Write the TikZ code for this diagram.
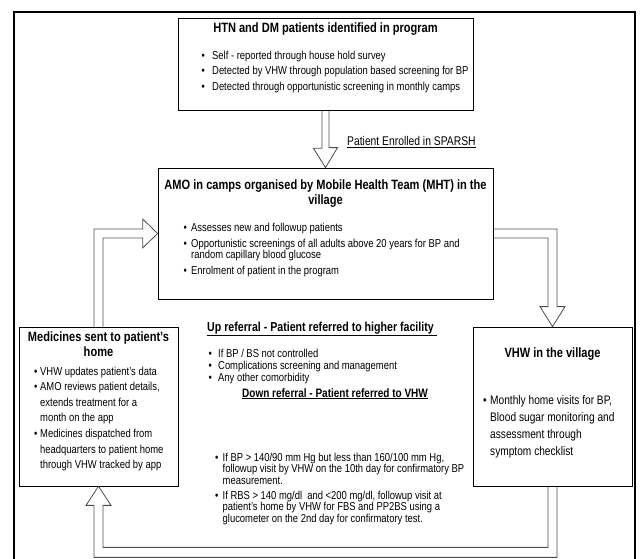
\documentclass[tikz,border=0pt]{standalone}
\usepackage{fontspec}
\setmainfont{Liberation Sans}[FakeStretch=0.82]
\usetikzlibrary{calc,positioning}

\newlength{\bulind}
\newcommand{\bul}[1]{\par\hangindent=\bulind\hangafter=1\noindent\makebox[\bulind][l]{\textbullet}#1}
\newcommand{\fsz}[2]{\fontsize{#1}{#2}\selectfont}
% width, bullet indent, gap between items, items
\newcommand{\blist}[4]{\begin{minipage}[t]{#1}\raggedright\setlength{\bulind}{#2}\setlength{\parskip}{#3}#4\end{minipage}}

\tikzset{
  box/.style={draw, line width=0.7pt},
  hollow/.style={draw=black!70, line width=0.8pt, line join=miter},
  frame/.style={line width=1.5pt},
  head/.style={inner sep=0pt, font=\bfseries\fsz{13.5}{15}, align=center},
  list/.style={inner sep=0pt, anchor=north west},
}

\begin{document}
\begin{tikzpicture}[x=1pt,y=-1pt]
            \useasboundingbox (0,0) rectangle (641,559);
            % frame
            \draw[frame] (14,559) -- (14,12) -- (635,12) -- (635,559);
            % boxes
            \node[box, minimum width=295, minimum height=92]  (ident) at (325.5,64)    {};
            \node[box, minimum width=335, minimum height=131] (camp)  at (325.5,233.5) {};
            \node[box, minimum width=159, minimum height=159] (meds)  at (98.5,406.5)  {};
            \node[box, minimum width=159, minimum height=159] (vhw)   at (552.5,406.5) {};
            % headings
            \node[head, anchor=base]  (identhead) at (325.5,33) {HTN and DM patients identified in program};
            \node[head, anchor=north] (camphead)  at (325.5,179.2) {AMO in camps organised by Mobile Health Team (MHT) in the\\ village};
            \node[head, anchor=north] (medshead)  at (98.5,331.2) {Medicines sent to patient's\\ home};
            \node[head, anchor=base]  (vhwhead)   at (552.5,357) {VHW in the village};
            \node[head, anchor=base west, font=\bfseries\fsz{12.95}{14}] (uphead)   at (207,331) {\underline{Up referral - Patient referred to higher facility\ }};
            \node[head, anchor=base west, font=\bfseries\fsz{12.2}{14}]  (downhead) at (242,397) {\underline{Down referral - Patient referred to VHW}};
            % lists
            \node[list, font=\fsz{11.5}{11.5}] (identlist) at (201.5,50.6) {\blist{290pt}{10.5pt}{4pt}{%
              \bul{Self - reported through house hold survey}
              \bul{Detected by VHW through population based screening for BP}
              \bul{Detected through opportunistic screening in monthly camps}}};
            \node[list, font=\fsz{11.5}{11.5}] (camplist) at (183.5,222.8) {\blist{300pt}{7.5pt}{4.5pt}{%
              \bul{Assesses new and followup patients}
              \bul{Opportunistic screenings of all adults above 20 years for BP and\newline random capillary blood glucose}
              \bul{Enrolment of patient in the program}}};
            \node[list, font=\fsz{11.5}{15.6}] (medslist) at (34,366.6) {\blist{150pt}{6pt}{0pt}{%
              \bul{VHW updates patient's data}
              \bul{AMO reviews patient details,\newline extends treatment for a\newline month on the app}
              \bul{Medicines dispatched from\newline headquarters to patient home\newline through VHW tracked by app}}};
            \node[list, font=\fsz{12.4}{17.3}] (vhwlist) at (483,394.9) {\blist{150pt}{7pt}{0pt}{%
              \bul{Monthly home visits for BP,\newline Blood sugar monitoring and\newline assessment through\newline symptom checklist}}};
            \node[list, font=\fsz{11.5}{12}] (uplist) at (208.5,348.6) {\blist{260pt}{9.5pt}{0pt}{%
              \bul{If BP / BS not controlled}
              \bul{Complications screening and management}
              \bul{Any other comorbidity}}};
            \node[list, font=\fsz{11.5}{11.5}] (downlist) at (215,452.6) {\blist{280pt}{7.5pt}{3.5pt}{%
              \bul{If BP > 140/90 mm Hg but less than 160/100 mm Hg,\newline followup visit by VHW on the 10th day for confirmatory BP\newline measurement.}
              \bul{If RBS > 140 mg/dl\ \ and <200 mg/dl, followup visit at\newline patient's home by VHW for FBS and PP2BS using a\newline glucometer on the 2nd day for confirmatory test.}}};
            % arrows
            \draw[hollow] ($(ident.south)+(-3.5,0)$) -- ++(0,38) -- ++(-8.5,0) -- (camp.north) -- ++(12,-20) -- ++(-8.5,0) -- ++(0,-38);
            \node[inner sep=0pt, anchor=base west, font=\fsz{12.6}{14}] (enrol) at (347,146) {\underline{Patient Enrolled in SPARSH}};
            \draw[hollow] ($(camp.east)+(0,-4.5)$) -| ($(vhw.north)+(4.5,-20)$) -- ++(8,0) -- (vhw.north) -- ++(-12.5,-20) -- ++(8,0) |- ($(camp.east)+(0,4.5)$);
            \draw[hollow] ($(vhw.south)+(4.5,0)$) -- ++(0,71) -| ($(meds.south)+(-4.5,19)$) -- ++(-8,0) -- (meds.south) -- ++(12.5,19) -- ++(-8,0) |- ($(vhw.south)+(-4.5,61)$) -- ++(0,-61);
            \draw[hollow] ($(meds.north)+(-4.5,0)$) |- ($(camp.west)+(-15,-4.5)$) -- ++(0,-10) -- (camp.west) -- ++(-15,14.5) -- ++(0,-10) -| ($(meds.north)+(4.5,0)$);
        \end{tikzpicture}
\end{document}
